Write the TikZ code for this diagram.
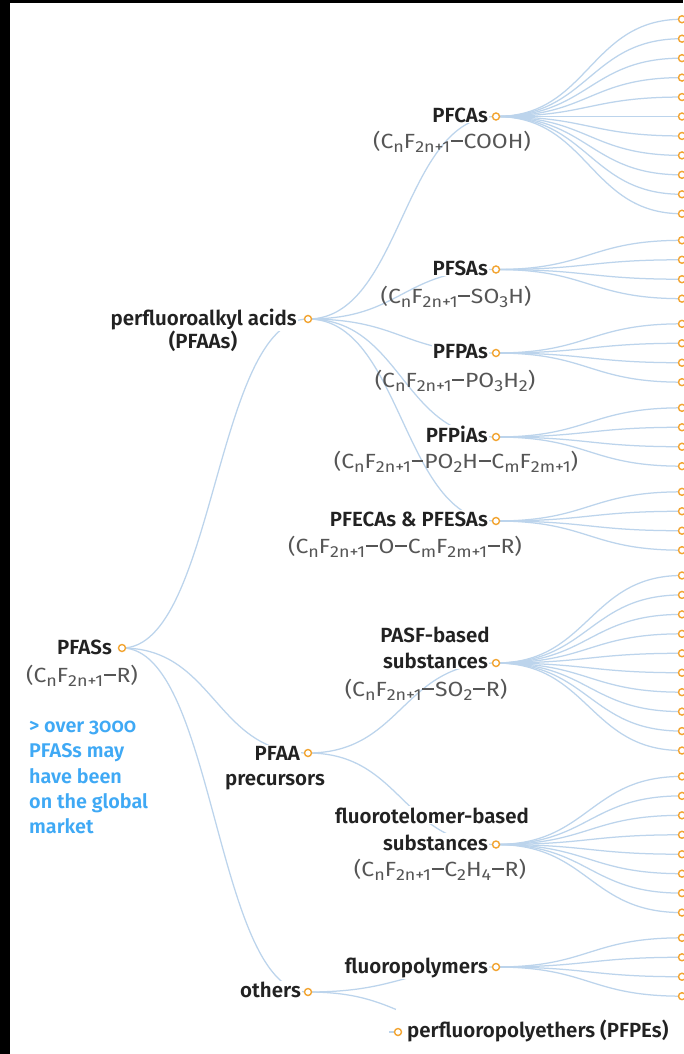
\documentclass[tikz,border=0pt]{standalone}
\usepackage{fontspec}
\setmainfont{Fira Sans}[BoldFont={Fira Sans SemiBold}]
\newfontfamily\frmfont{Fira Sans}[FakeStretch=1.12]
\usetikzlibrary{backgrounds}
\definecolor{edgeblue}{HTML}{BCD4EC}
\definecolor{dotorange}{HTML}{F2A431}
\definecolor{txtdark}{HTML}{222222}
\definecolor{txtgray}{HTML}{555555}
\definecolor{noteblue}{HTML}{3FA9F5}
\newcommand{\sbs}[1]{\raisebox{-4.5pt}{\fontsize{16}{16}\selectfont #1}}
\newcommand{\mns}{{\kern0.8pt\rule[0.3em]{0.58em}{0.075em}\kern0.8pt}}
\begin{document}
\begin{tikzpicture}[x=1pt,y=-1pt,
  dot/.style={circle,draw=dotorange,fill=white,line width=1.4pt,minimum size=7pt,inner sep=0pt},
  edge/.style={draw=edgeblue,line width=1.25pt},
  lbl/.style={font=\fontsize{20.5}{24}\selectfont\bfseries,text=txtdark,fill=white,inner sep=1pt},
  frm/.style={font=\frmfont\fontsize{20.5}{24}\selectfont,text=txtgray,inner sep=0pt,anchor=base},
  note/.style={font=\fontsize{19.8}{24}\selectfont\bfseries\addfontfeatures{Numbers=OldStyle},text=noteblue,inner sep=0pt,anchor=base west}]
\useasboundingbox (0,0) rectangle (683,1054);

% tree nodes
\node[dot] (pfas) at (122,648) {};
\node[dot] (pfaa) at (308,319) {};
\node[dot] (prec) at (308,753) {};
\node[dot] (oth) at (308,992) {};
\node[dot] (fca) at (496,116.5) {};
\node[dot] (fsa) at (496,269.5) {};
\node[dot] (fpa) at (496,353) {};
\node[dot] (fpi) at (496,437) {};
\node[dot] (fec) at (496,521) {};
\node[dot] (pasf) at (496,663) {};
\node[dot] (ftl) at (496,844.5) {};
\node[dot] (fpol) at (496,967) {};
\coordinate (pfpeEnd) at (496,1032);
\coordinate (pfpeStub) at (389,1032);

\foreach \g/\py/\n in {fca/116.5/11, fsa/269.5/4, fpa/353/4, fpi/437/4, fec/521/4, pasf/663/10, ftl/844.5/8, fpol/967/4}{
  \foreach \i in {1,...,\n}{
    \node[dot] (\g-\i) at (682,{\py+19.45*(\i-(\n+1)/2)}) {};
  }
}

% labels
\node[lbl,anchor=base east] (tpfas) at (113,654) {PFASs};
\node[frm] (fpfas) at (82,682) {(C\sbs{n}F\sbs{2n+1}\mns R)};
\node[note] (n1) at (29,732) {> over 3000};
\node[note] (n2) at (29,757) {PFASs may};
\node[note] (n3) at (29,783) {have been};
\node[note] (n4) at (29,808) {on the global};
\node[note] (n5) at (29,833) {market};

\node[lbl,anchor=base east] (tpfaa) at (298,325) {perfluoroalkyl acids};
\node[lbl,anchor=base] (tpfaa2) at (203,348) {(PFAAs)};
\node[lbl,anchor=base east] (tprec) at (301,760) {PFAA};
\node[lbl,anchor=base] (tprec2) at (275,785) {precursors};
\node[lbl,anchor=base east] (toth) at (302,997) {others};

\node[lbl,anchor=base east] (tfca) at (489,122) {PFCAs};
\node[frm] (ffca) at (452,148) {(C\sbs{n}F\sbs{2n+1}\mns COOH)};
\node[lbl,anchor=base east] (tfsa) at (489,275) {PFSAs};
\node[frm] (ffsa) at (456,303) {(C\sbs{n}F\sbs{2n+1}\mns SO\sbs{3}H)};
\node[lbl,anchor=base east] (tfpa) at (489,358) {PFPAs};
\node[frm] (ffpa) at (455,387) {(C\sbs{n}F\sbs{2n+1}\mns PO\sbs{3}H\sbs{2})};
\node[lbl,anchor=base east] (tfpi) at (489,442) {PFPiAs};
\node[frm] (ffpi) at (456,468) {(C\sbs{n}F\sbs{2n+1}\mns PO\sbs{2}H\mns C\sbs{m}F\sbs{2m+1})};
\node[lbl,anchor=base east] (tfec) at (489,526) {PFECAs \& PFESAs};
\node[frm] (ffec) at (405,553) {(C\sbs{n}F\sbs{2n+1}\mns O\mns C\sbs{m}F\sbs{2m+1}\mns R)};
\node[lbl,anchor=base] (tpasf1) at (435,642) {PASF-based};
\node[lbl,anchor=base east] (tpasf) at (489,668) {substances};
\node[frm] (fpasf) at (426,696) {(C\sbs{n}F\sbs{2n+1}\mns SO\sbs{2}\mns R)};
\node[lbl,anchor=base] (tftl1) at (432,823) {fluorotelomer-based};
\node[lbl,anchor=base east] (tftl) at (489,850) {substances};
\node[frm] (fftl) at (440,876) {(C\sbs{n}F\sbs{2n+1}\mns C\sbs{2}H\sbs{4}\mns R)};
\node[lbl,anchor=base east] (tfpol) at (489,973) {fluoropolymers};
\node[dot] (pfpe) at (398,1032) {};
\node[lbl,anchor=base west] (tpfpe) at (406,1037) {perfluoropolyethers (PFPEs)};

% connectors (behind)
\begin{pgfonlayer}{background}
  \fill[white] (0,0) rectangle (683,1054);
  \draw[edge] (pfas.center) .. controls +(93,0) and +(-93,0) .. (pfaa.center);
  \draw[edge] (pfas.center) .. controls +(93,0) and +(-93,0) .. (prec.center);
  \draw[edge] (pfas.center) .. controls +(93,0) and +(-93,0) .. (oth.center);
  \foreach \c in {fca,fsa,fpa,fpi,fec}{
    \draw[edge] (pfaa.center) .. controls +(94,0) and +(-94,0) .. (\c.center);
  }
  \foreach \c in {pasf,ftl}{
    \draw[edge] (prec.center) .. controls +(94,0) and +(-94,0) .. (\c.center);
  }
  \draw[edge] (oth.center) .. controls +(94,0) and +(-94,0) .. (fpol.center);
  \draw[edge] (oth.center) .. controls +(94,0) and +(-94,0) .. (pfpeEnd);
  \fill[white] (396,1009) rectangle (683,1054);
  \draw[edge] (pfpeStub) -- (pfpe.center);
  \foreach \g/\n in {fca/11, fsa/4, fpa/4, fpi/4, fec/4, pasf/10, ftl/8, fpol/4}{
    \foreach \i in {1,...,\n}{
      \draw[edge] (\g.center) .. controls +(93,0) and +(-93,0) .. (\g-\i.center);
    }
  }
\end{pgfonlayer}

% frame strips
\fill[black] (0,0) rectangle (10,1054);
\fill[black] (0,0) rectangle (683,3);
\end{tikzpicture}
\end{document}
